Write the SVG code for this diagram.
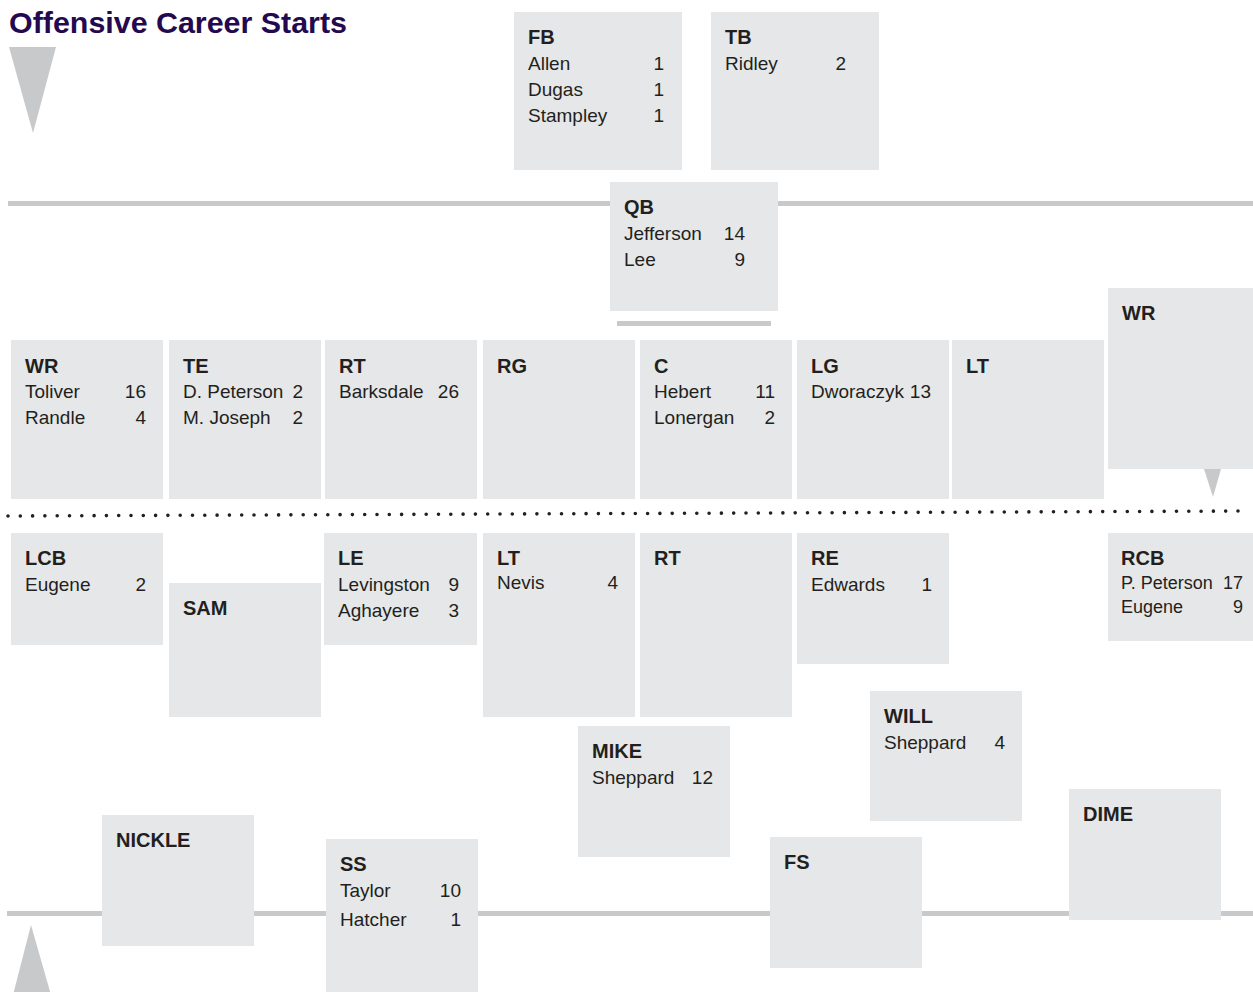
<svg xmlns="http://www.w3.org/2000/svg" width="1253" height="992" viewBox="0 0 1253 992">
<style>
.bx{fill:#e6e7e8}
.h{font-family:"Liberation Sans",Arial,sans-serif;font-weight:bold;font-size:20px;fill:#231f20}
.t{font-family:"Liberation Sans",Arial,sans-serif;font-size:19px;fill:#231f20}
.s{font-family:"Liberation Sans",Arial,sans-serif;font-size:18px;fill:#231f20}
.n{text-anchor:end}
.bar{fill:#c8c9cb}
</style>
<rect width="1253" height="992" fill="#ffffff"/>
<text x="9" y="33" font-family="Liberation Sans, Arial, sans-serif" font-weight="bold" font-size="30" fill="#24094f" textLength="338" lengthAdjust="spacingAndGlyphs">Offensive Career Starts</text>
<g id="connectors">
<polygon class="bar" points="9,47 56,47 33,133"/>
<rect class="bar" x="8" y="201" width="1245" height="5"/>
<rect class="bar" x="617" y="321" width="154" height="5"/>
<polygon class="bar" points="1204,469 1221,469 1213,497"/>
<line x1="8" y1="516" x2="1250" y2="511" stroke="#231f20" stroke-width="3.6" stroke-linecap="round" stroke-dasharray="0 12.3"/>
<rect class="bar" x="7" y="911" width="1246" height="5"/>
<polygon class="bar" points="31,925 51,995 13,995"/>
</g>
<g id="FB"><rect class="bx" x="514" y="12" width="168" height="158"/><text class="h" x="528" y="44">FB</text><text class="t" x="528" y="70">Allen</text><text class="t n" x="664" y="70">1</text><text class="t" x="528" y="96">Dugas</text><text class="t n" x="664" y="96">1</text><text class="t" x="528" y="122">Stampley</text><text class="t n" x="664" y="122">1</text></g>
<g id="TB"><rect class="bx" x="711" y="12" width="168" height="158"/><text class="h" x="725" y="44">TB</text><text class="t" x="725" y="70">Ridley</text><text class="t n" x="846" y="70">2</text></g>
<g id="QB"><rect class="bx" x="610" y="182" width="168" height="129"/><text class="h" x="624" y="214">QB</text><text class="t" x="624" y="240">Jefferson</text><text class="t n" x="745" y="240">14</text><text class="t" x="624" y="266">Lee</text><text class="t n" x="745" y="266">9</text></g>
<g id="WR-left"><rect class="bx" x="11" y="340" width="152" height="159"/><text class="h" x="25" y="373">WR</text><text class="t" x="25" y="398">Toliver</text><text class="t n" x="146" y="398">16</text><text class="t" x="25" y="424">Randle</text><text class="t n" x="146" y="424">4</text></g>
<g id="TE"><rect class="bx" x="169" y="340" width="152" height="159"/><text class="h" x="183" y="373">TE</text><text class="t" x="183" y="398">D. Peterson</text><text class="t n" x="303" y="398">2</text><text class="t" x="183" y="424">M. Joseph</text><text class="t n" x="303" y="424">2</text></g>
<g id="RT-off"><rect class="bx" x="325" y="340" width="152" height="159"/><text class="h" x="339" y="373">RT</text><text class="t" x="339" y="398">Barksdale</text><text class="t n" x="459" y="398">26</text></g>
<g id="RG"><rect class="bx" x="483" y="340" width="152" height="159"/><text class="h" x="497" y="373">RG</text></g>
<g id="C"><rect class="bx" x="640" y="340" width="152" height="159"/><text class="h" x="654" y="373">C</text><text class="t" x="654" y="398">Hebert</text><text class="t n" x="775" y="398">11</text><text class="t" x="654" y="424">Lonergan</text><text class="t n" x="775" y="424">2</text></g>
<g id="LG"><rect class="bx" x="797" y="340" width="152" height="159"/><text class="h" x="811" y="373">LG</text><text class="t" x="811" y="398">Dworaczyk</text><text class="t n" x="931" y="398">13</text></g>
<g id="LT-off"><rect class="bx" x="952" y="340" width="152" height="159"/><text class="h" x="966" y="373">LT</text></g>
<g id="WR-right"><rect class="bx" x="1108" y="288" width="145" height="181"/><text class="h" x="1122" y="320">WR</text></g>
<g id="LCB"><rect class="bx" x="11" y="533" width="152" height="112"/><text class="h" x="25" y="565">LCB</text><text class="t" x="25" y="591">Eugene</text><text class="t n" x="146" y="591">2</text></g>
<g id="SAM"><rect class="bx" x="169" y="583" width="152" height="134"/><text class="h" x="183" y="615">SAM</text></g>
<g id="LE"><rect class="bx" x="324" y="533" width="153" height="112"/><text class="h" x="338" y="565">LE</text><text class="t" x="338" y="591">Levingston</text><text class="t n" x="459" y="591">9</text><text class="t" x="338" y="617">Aghayere</text><text class="t n" x="459" y="617">3</text></g>
<g id="LT-def"><rect class="bx" x="483" y="533" width="152" height="184"/><text class="h" x="497" y="565">LT</text><text class="t" x="497" y="589">Nevis</text><text class="t n" x="618" y="589">4</text></g>
<g id="RT-def"><rect class="bx" x="640" y="533" width="152" height="184"/><text class="h" x="654" y="565">RT</text></g>
<g id="RE"><rect class="bx" x="797" y="533" width="152" height="131"/><text class="h" x="811" y="565">RE</text><text class="t" x="811" y="591">Edwards</text><text class="t n" x="932" y="591">1</text></g>
<g id="RCB"><rect class="bx" x="1108" y="533" width="145" height="108"/><text class="h" x="1121" y="565">RCB</text><text class="s" x="1121" y="589">P. Peterson</text><text class="s n" x="1243" y="589">17</text><text class="s" x="1121" y="613">Eugene</text><text class="s n" x="1243" y="613">9</text></g>
<g id="WILL"><rect class="bx" x="870" y="691" width="152" height="130"/><text class="h" x="884" y="723">WILL</text><text class="t" x="884" y="749">Sheppard</text><text class="t n" x="1005" y="749">4</text></g>
<g id="MIKE"><rect class="bx" x="578" y="726" width="152" height="131"/><text class="h" x="592" y="758">MIKE</text><text class="t" x="592" y="784">Sheppard</text><text class="t n" x="713" y="784">12</text></g>
<g id="DIME"><rect class="bx" x="1069" y="789" width="152" height="131"/><text class="h" x="1083" y="821">DIME</text></g>
<g id="NICKLE"><rect class="bx" x="102" y="815" width="152" height="131"/><text class="h" x="116" y="847">NICKLE</text></g>
<g id="FS"><rect class="bx" x="770" y="837" width="152" height="131"/><text class="h" x="784" y="869">FS</text></g>
<g id="SS"><rect class="bx" x="326" y="839" width="152" height="160"/><text class="h" x="340" y="871">SS</text><text class="t" x="340" y="897">Taylor</text><text class="t n" x="461" y="897">10</text><text class="t" x="340" y="926">Hatcher</text><text class="t n" x="461" y="926">1</text></g>
</svg>
